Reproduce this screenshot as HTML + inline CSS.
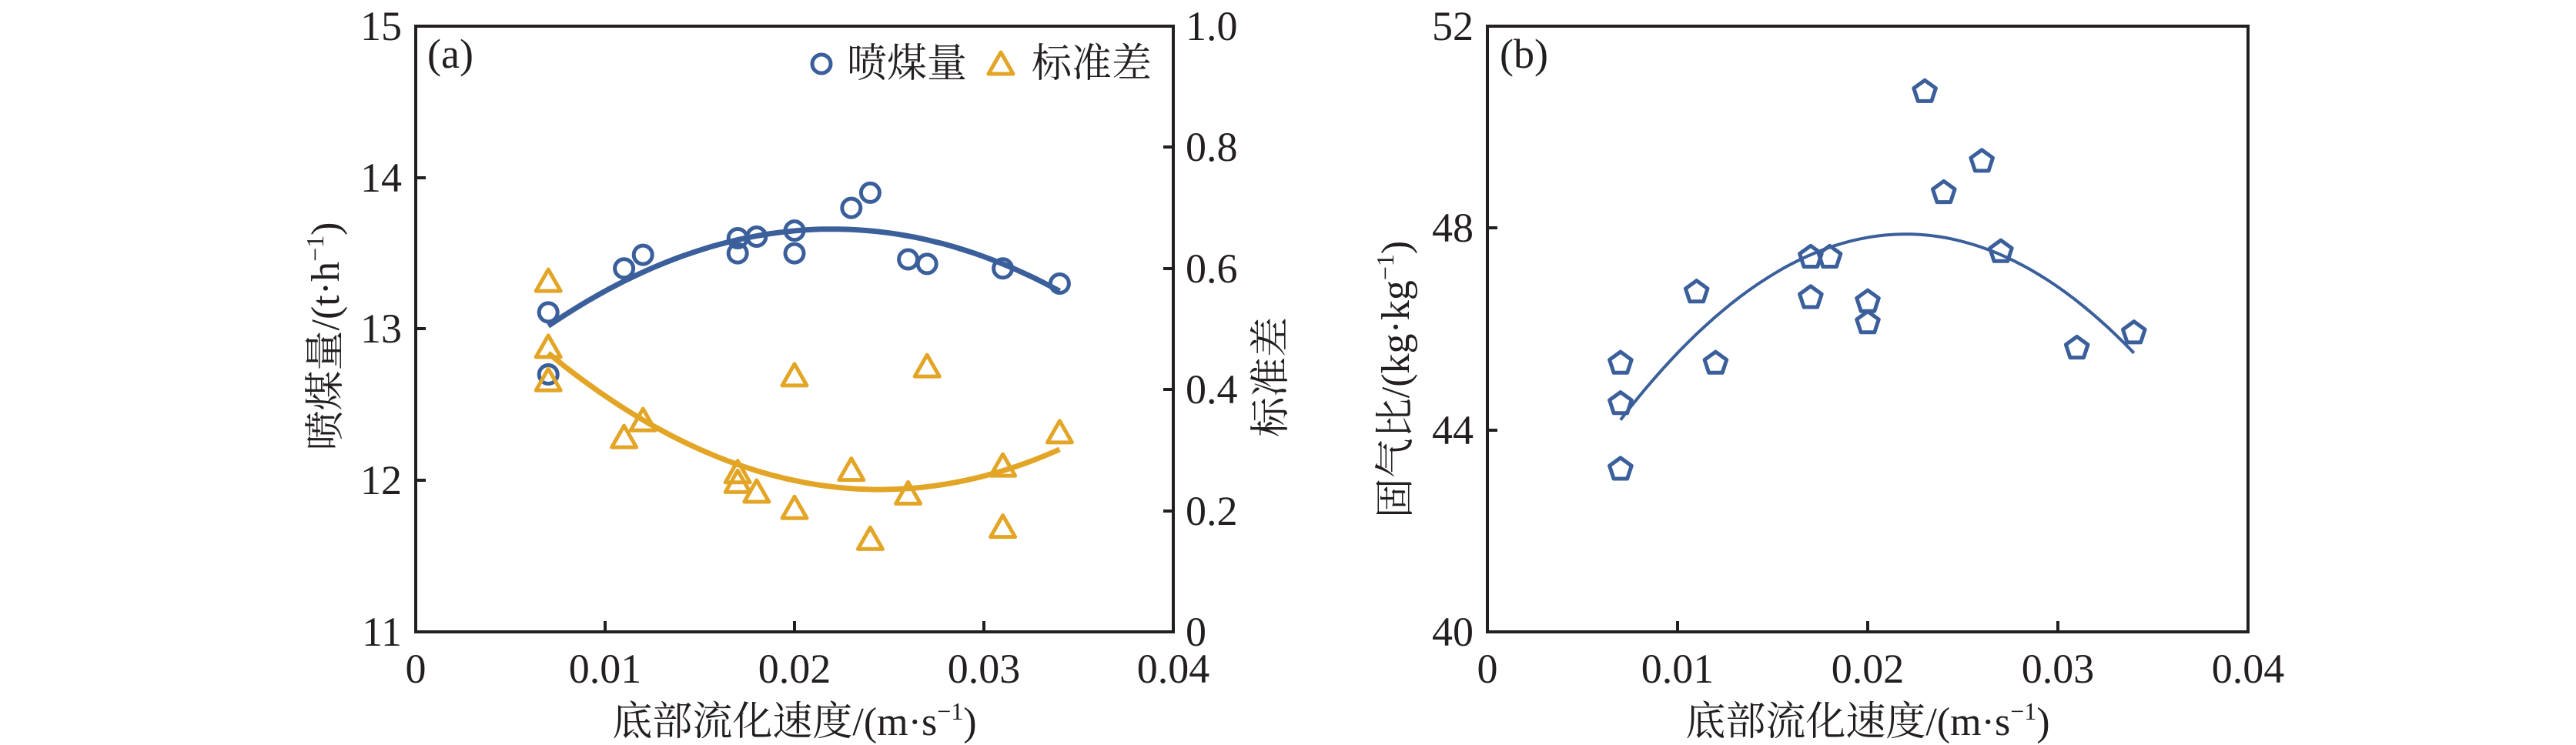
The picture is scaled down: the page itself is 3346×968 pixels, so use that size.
<!DOCTYPE html>
<html><head><meta charset="utf-8"><style>
html,body{margin:0;padding:0;background:#fff;}
svg{display:block;}
text{font-family:"Liberation Serif","Noto Serif CJK SC",serif;fill:#231f20;}
</style></head><body>
<svg id="s" width="3346" height="968" viewBox="0 0 3346 968" xmlns="http://www.w3.org/2000/svg">
<g fill="none" stroke="#231f20" stroke-width="4">
<rect x="540" y="34" width="984" height="787"/>
<rect x="1932" y="34" width="988" height="787"/>
<path d="M786 821v-14M1032 821v-14M1278 821v-14 M540 624h13M540 427h13M540 231h13 M1524 664h-13M1524 506h-13M1524 349h-13M1524 191h-13 M2179 821v-14M2426 821v-14M2673 821v-14 M1932 559h13M1932 296h13"/>
</g>
<g font-size="54">
<text x="522" y="52" text-anchor="end">15</text>
<text x="522" y="249" text-anchor="end">14</text>
<text x="522" y="445" text-anchor="end">13</text>
<text x="522" y="642" text-anchor="end">12</text>
<text x="522" y="839" text-anchor="end">11</text>
<text x="1540" y="52">1.0</text>
<text x="1540" y="209">0.8</text>
<text x="1540" y="367">0.6</text>
<text x="1540" y="524">0.4</text>
<text x="1540" y="682">0.2</text>
<text x="1540" y="839">0</text>
<text x="540" y="887" text-anchor="middle">0</text>
<text x="786" y="887" text-anchor="middle">0.01</text>
<text x="1032" y="887" text-anchor="middle">0.02</text>
<text x="1278" y="887" text-anchor="middle">0.03</text>
<text x="1524" y="887" text-anchor="middle">0.04</text>
<text x="1914" y="52" text-anchor="end">52</text>
<text x="1914" y="314" text-anchor="end">48</text>
<text x="1914" y="577" text-anchor="end">44</text>
<text x="1914" y="839" text-anchor="end">40</text>
<text x="1932" y="887" text-anchor="middle">0</text>
<text x="2179" y="887" text-anchor="middle">0.01</text>
<text x="2426" y="887" text-anchor="middle">0.02</text>
<text x="2673" y="887" text-anchor="middle">0.03</text>
<text x="2920" y="887" text-anchor="middle">0.04</text>
<text x="555" y="88">(a)</text>
<text x="1948" y="88">(b)</text>
</g>
<g font-size="52">
<text x="1100" y="100">喷煤量</text>
<text x="1340" y="100">标准差</text>
<text x="1032" y="955" text-anchor="middle">底部流化速度/(m·s<tspan font-size="32" dy="-20">−1</tspan><tspan dy="20">)</tspan></text>
<text x="2426" y="955" text-anchor="middle">底部流化速度/(m·s<tspan font-size="32" dy="-20">−1</tspan><tspan dy="20">)</tspan></text>
<text transform="translate(440,437) rotate(-90)" text-anchor="middle">喷煤量/(t·h<tspan font-size="32" dy="-20">−1</tspan><tspan dy="20">)</tspan></text>
<text transform="translate(1668,490) rotate(-90)" text-anchor="middle">标准差</text>
<text transform="translate(1830,493) rotate(-90)" text-anchor="middle">固气比/(kg·kg<tspan font-size="32" dy="-20">−1</tspan><tspan dy="20">)</tspan></text>
</g>
<circle cx="1067" cy="83" r="12" fill="none" stroke="#3a5f9a" stroke-width="5"/>
<path d="M1300 68 L1316 96 L1284 96 Z" fill="none" stroke="#e3a526" stroke-width="5" stroke-linejoin="round"/>
<g id="g"></g>
</svg>
<script>
var g=document.getElementById('g'),NS='http://www.w3.org/2000/svg';
function ax(x){return 540+x/0.04*984}
function ayL(y){return 821-(y-11)/4*787}
function ayR(y){return 821-y*787}
function bx(x){return 1932+x/0.04*988}
function by(y){return 821-(y-40)/12*787}
function el(n,a){var e=document.createElementNS(NS,n);for(var k in a)e.setAttribute(k,a[k]);g.appendChild(e);return e}
function curve(f,fx,fy,x0,x1,c,w){var d='';for(var i=0;i<=60;i++){var x=x0+(x1-x0)*i/60;d+=(i?'L':'M')+fx(x).toFixed(1)+' '+fy(f(x)).toFixed(1)}el('path',{d:d,fill:'none',stroke:c,'stroke-width':w})}
var B='#3a5f9a',O='#e3a526';
curve(function(x){return 13.66-2844*(x-0.022)*(x-0.022)},ax,ayL,0.007,0.034,B,7);
curve(function(x){return 0.235+735*(x-0.0245)*(x-0.0245)},ax,ayR,0.007,0.034,O,7);
curve(function(x){return 47.88-16356*(x-0.022)*(x-0.022)},bx,by,0.007,0.034,B,4);
[[.007,13.11],[.007,12.7],[.011,13.4],[.012,13.49],[.017,13.6],[.017,13.5],[.018,13.61],[.02,13.65],[.02,13.5],[.023,13.8],[.024,13.9],[.026,13.46],[.027,13.43],[.031,13.4],[.034,13.3]].forEach(function(p){el('circle',{cx:ax(p[0]),cy:ayL(p[1]),r:12,fill:'none',stroke:B,'stroke-width':5})});
[[.007,.578],[.007,.469],[.007,.414],[.011,.32],[.012,.348],[.017,.262],[.017,.246],[.018,.23],[.02,.422],[.02,.203],[.023,.266],[.024,.152],[.026,.227],[.027,.437],[.031,.273],[.031,.172],[.034,.328]].forEach(function(p){var x=ax(p[0]),y=ayR(p[1]);el('path',{d:'M'+x+' '+(y-16)+'L'+(x+16)+' '+(y+12)+'L'+(x-16)+' '+(y+12)+'Z',fill:'none',stroke:O,'stroke-width':5,'stroke-linejoin':'round'})});
[[.007,45.32],[.007,44.52],[.007,43.22],[.011,46.73],[.012,45.32],[.017,47.42],[.017,46.62],[.018,47.42],[.02,46.54],[.02,46.12],[.023,50.7],[.024,48.7],[.026,49.32],[.027,47.53],[.031,45.62],[.034,45.92]].forEach(function(p){var x=bx(p[0]),y=by(p[1]),d='';for(var i=0;i<5;i++){var a=-Math.PI/2+i*2*Math.PI/5;d+=(i?'L':'M')+(x+15*Math.cos(a)).toFixed(1)+' '+(y+15*Math.sin(a)).toFixed(1)}el('path',{d:d+'Z',fill:'none',stroke:B,'stroke-width':5,'stroke-linejoin':'round'})});
</script>
</body></html>
